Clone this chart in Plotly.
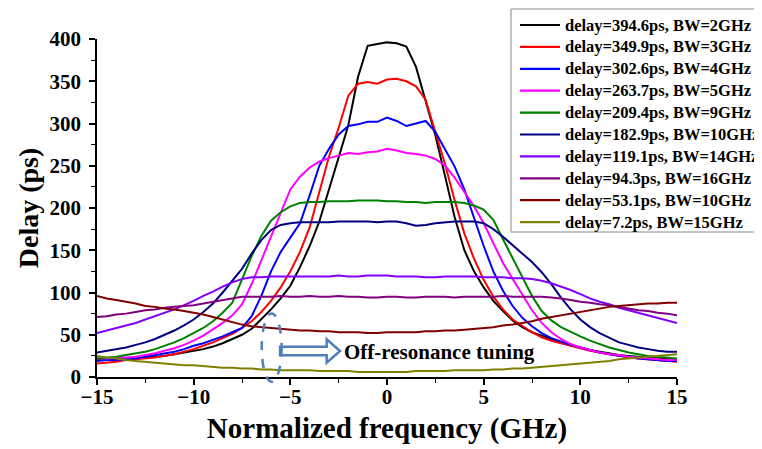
import plotly.graph_objects as go

FREQ = [-15, -14.5, -14, -13.5, -13, -12.5, -12, -11.5, -11, -10.5, -10, -9.5, -9, -8.5, -8, -7.5, -7, -6.5, -6, -5.5,
        -5, -4.5, -4, -3.5, -3, -2.5, -2, -1.5, -1, -0.5, 0, 0.5, 1, 1.5, 2, 2.5, 3, 3.5, 4, 4.5,
        5, 5.5, 6, 6.5, 7, 7.5, 8, 8.5, 9, 9.5, 10, 10.5, 11, 11.5, 12, 12.5, 13, 13.5, 14, 14.5, 15]

D_394 = [20, 20, 21, 21, 22, 23, 24, 25, 27, 29, 31, 33, 36, 40, 45, 50, 57, 68, 80, 93,
         108, 130, 155, 184, 222, 260, 298, 355, 392, 394, 396, 395, 391, 367, 328, 286, 238, 189, 150, 125,
         106, 90, 78, 67, 59, 53, 49, 45, 41, 38, 35, 32, 30, 28, 26, 25, 24, 23, 22, 21, 20]
D_349 = [16, 17, 18, 20, 21, 22, 23, 25, 27, 30, 33, 37, 41, 46, 51, 58, 66, 77, 90, 106,
         125, 148, 177, 219, 261, 295, 333, 347, 349, 347, 352, 353, 350, 344, 328, 290, 252, 209, 170, 140,
         115, 95, 80, 68, 60, 53, 47, 43, 40, 37, 34, 31, 29, 27, 25, 23, 22, 21, 20, 19, 18]
D_302 = [19, 20, 20, 21, 22, 24, 26, 28, 30, 33, 37, 40, 44, 48, 53, 58, 72, 96, 125, 148,
         165, 182, 215, 250, 270, 287, 297, 299, 302, 302, 307, 303, 297, 300, 303, 290, 270, 249, 222, 188,
         155, 125, 102, 84, 70, 60, 52, 46, 42, 38, 35, 32, 29, 27, 25, 24, 22, 21, 20, 19, 19]
D_263 = [22, 22, 23, 23, 24, 26, 28, 31, 34, 38, 43, 49, 56, 64, 73, 86, 110, 138, 165, 195,
         222, 237, 248, 255, 259, 262, 265, 264, 266, 267, 270, 268, 265, 264, 262, 258, 250, 236, 219, 202,
         182, 158, 135, 116, 98, 79, 64, 53, 45, 39, 35, 32, 29, 27, 26, 24, 23, 22, 21, 20, 20]
D_209 = [22, 23, 24, 26, 28, 30, 33, 37, 41, 46, 52, 58, 66, 76, 88, 115, 143, 167, 185, 195,
         202, 206, 207, 207, 208, 208, 208, 209, 209, 209, 208, 208, 207, 207, 206, 207, 207, 207, 206, 203,
         198, 186, 163, 140, 118, 96, 78, 67, 59, 53, 48, 43, 39, 35, 32, 29, 27, 25, 24, 23, 22]
D_182 = [29, 31, 33, 35, 38, 41, 45, 50, 55, 61, 68, 77, 87, 100, 114, 128, 146, 162, 174, 180,
         182, 183, 183, 183, 183, 184, 184, 184, 184, 183, 184, 184, 182, 179, 180, 182, 183, 184, 184, 184,
         182, 175, 166, 156, 146, 136, 124, 110, 94, 80, 68, 59, 52, 46, 41, 38, 35, 33, 31, 30, 30]
D_119 = [52, 55, 58, 61, 64, 68, 72, 76, 80, 85, 90, 96, 101, 107, 112, 116, 118, 118, 119, 119,
         119, 119, 119, 119, 119, 120, 119, 119, 120, 120, 120, 119, 119, 119, 118, 118, 119, 119, 119, 119,
         118, 118, 118, 117, 117, 116, 114, 111, 107, 103, 98, 93, 89, 86, 82, 79, 76, 73, 70, 67, 64]
D_94 = [71, 72, 74, 75, 77, 79, 80, 82, 83, 84, 85, 87, 89, 91, 93, 95, 95, 95, 95, 96,
        95, 95, 96, 95, 95, 96, 95, 95, 94, 94, 95, 95, 94, 94, 95, 95, 95, 94, 95, 95,
        95, 95, 96, 95, 95, 95, 95, 94, 93, 91, 89, 88, 86, 85, 83, 81, 79, 78, 76, 75, 73]
D_53 = [96, 93, 91, 89, 87, 84, 83, 81, 80, 78, 76, 74, 71, 68, 65, 62, 60, 59, 58, 57,
        56, 55, 55, 54, 54, 53, 53, 53, 52, 52, 53, 53, 53, 53, 54, 54, 55, 55, 56, 57,
        58, 59, 61, 62, 64, 66, 69, 71, 73, 75, 77, 79, 81, 83, 84, 85, 86, 87, 87, 88, 88]
D_7 = [25, 23, 22, 20, 19, 18, 17, 16, 15, 14, 14, 13, 12, 11, 11, 10, 10, 9, 9, 8,
       8, 8, 8, 7, 7, 7, 7, 6, 6, 6, 6, 6, 6, 7, 7, 7, 7, 8, 8, 8,
       8, 9, 9, 10, 10, 11, 12, 13, 14, 15, 16, 17, 18, 19, 21, 22, 23, 24, 25, 26, 27]

NAMES = ["delay=394.6ps, BW=2GHz", "delay=349.9ps, BW=3GHz", "delay=302.6ps, BW=4GHz",
         "delay=263.7ps, BW=5GHz", "delay=209.4ps, BW=9GHz", "delay=182.9ps, BW=10GHz",
         "delay=119.1ps, BW=14GHz", "delay=94.3ps, BW=16GHz", "delay=53.1ps, BW=10GHz",
         "delay=7.2ps, BW=15GHz"]
SERIES = [D_394, D_349, D_302, D_263, D_209, D_182, D_119, D_94, D_53, D_7]
COLORS = ["#000000", "#ff0000", "#0000ff", "#ff00ff", "#008000", "#000080",
          "#8000ff", "#800080", "#800000", "#808000"]

FONT = "Liberation Serif, Times New Roman, serif"
ACCENT = "#4f7fb8"

# page offset of the figure inside the html body (default body margin)
OFF = 8
PL, PR, PT, PB = 97, 677, 39, 377  # plot area in page pixels


def px_x(p):
    return (p - PL) / (PR - PL)


def px_y(p):
    return (PB - p) / (PB - PT)


fig = go.Figure()
for name, ys, col in zip(NAMES, SERIES, COLORS):
    fig.add_trace(go.Scatter(x=FREQ, y=ys, mode="lines", name=name,
                             line=dict(color=col, width=2), showlegend=False))

fig.add_annotation(x=2.69, y=29.6, xref="x", yref="y", text="Off-resonance tuning",
                   showarrow=False, font=dict(family=FONT, size=21, color="black", weight="bold"))

# hollow arrow
fig.add_shape(type="path", xref="x", yref="y",
              path="M -5.53,25.8 L -3.12,25.8 L -3.12,17 L -2.43,30.8 L -3.12,44.6 L -3.12,35.8 L -5.53,35.8 Z",
              line=dict(color=ACCENT, width=2.5), fillcolor="rgba(255,255,255,0)")
# dashed ellipse
fig.add_shape(type="circle", xref="x", yref="paper", x0=-6.48, x1=-5.45, y0=-0.014, y1=0.188,
              line=dict(color=ACCENT, width=2.5, dash="dash"))

# legend box (drawn by hand so that the entries keep the reference spacing)
fig.add_shape(type="rect", xref="paper", yref="paper",
              x0=px_x(511), x1=px_x(790), y0=px_y(232), y1=px_y(9),
              line=dict(color="#888888", width=1), fillcolor="white", layer="above")
for i, (name, col) in enumerate(zip(NAMES, COLORS)):
    yc = px_y(25 + 21.9 * i)
    fig.add_shape(type="line", xref="paper", yref="paper",
                  x0=px_x(520), x1=px_x(560), y0=yc, y1=yc,
                  line=dict(color=col, width=2.2), layer="above")
    fig.add_annotation(x=px_x(563), y=yc, xref="paper", yref="paper", text=name,
                       showarrow=False, xanchor="left", yanchor="middle",
                       font=dict(family=FONT, size=16.5, color="black", weight="bold"))

axis_common = dict(
    showgrid=False, zeroline=False, showline=True, linecolor="black", linewidth=1.5,
    ticks="outside", ticklen=6, tickwidth=1.5, tickcolor="black",
    tickfont=dict(family=FONT, size=21, color="black", weight="bold"),
)

fig.update_xaxes(range=[-15, 15], dtick=5, tick0=0, ticklabelstandoff=-6,
                 minor=dict(dtick=2.5, ticks="outside", ticklen=4, tickcolor="black", tickwidth=1.2),
                 title=dict(text="Normalized frequency (GHz)", standoff=10,
                            font=dict(family=FONT, size=29, color="black", weight="bold")),
                 **axis_common)
fig.update_yaxes(range=[0, 400], dtick=50, tick0=0, ticklabelstandoff=4,
                 minor=dict(dtick=25, ticks="outside", ticklen=4, tickcolor="black", tickwidth=1.2),
                 title=dict(text="Delay (ps)", standoff=3,
                            font=dict(family=FONT, size=28, color="black", weight="bold")),
                 **axis_common)

W, H = 762 - OFF, 449 - OFF
fig.update_layout(
    width=W, height=H,
    margin=dict(l=PL - OFF, r=762 - PR, t=PT - OFF, b=449 - PB, autoexpand=False),
    plot_bgcolor="white", paper_bgcolor="white",
    showlegend=False,
)

fig.write_html("out.html")
